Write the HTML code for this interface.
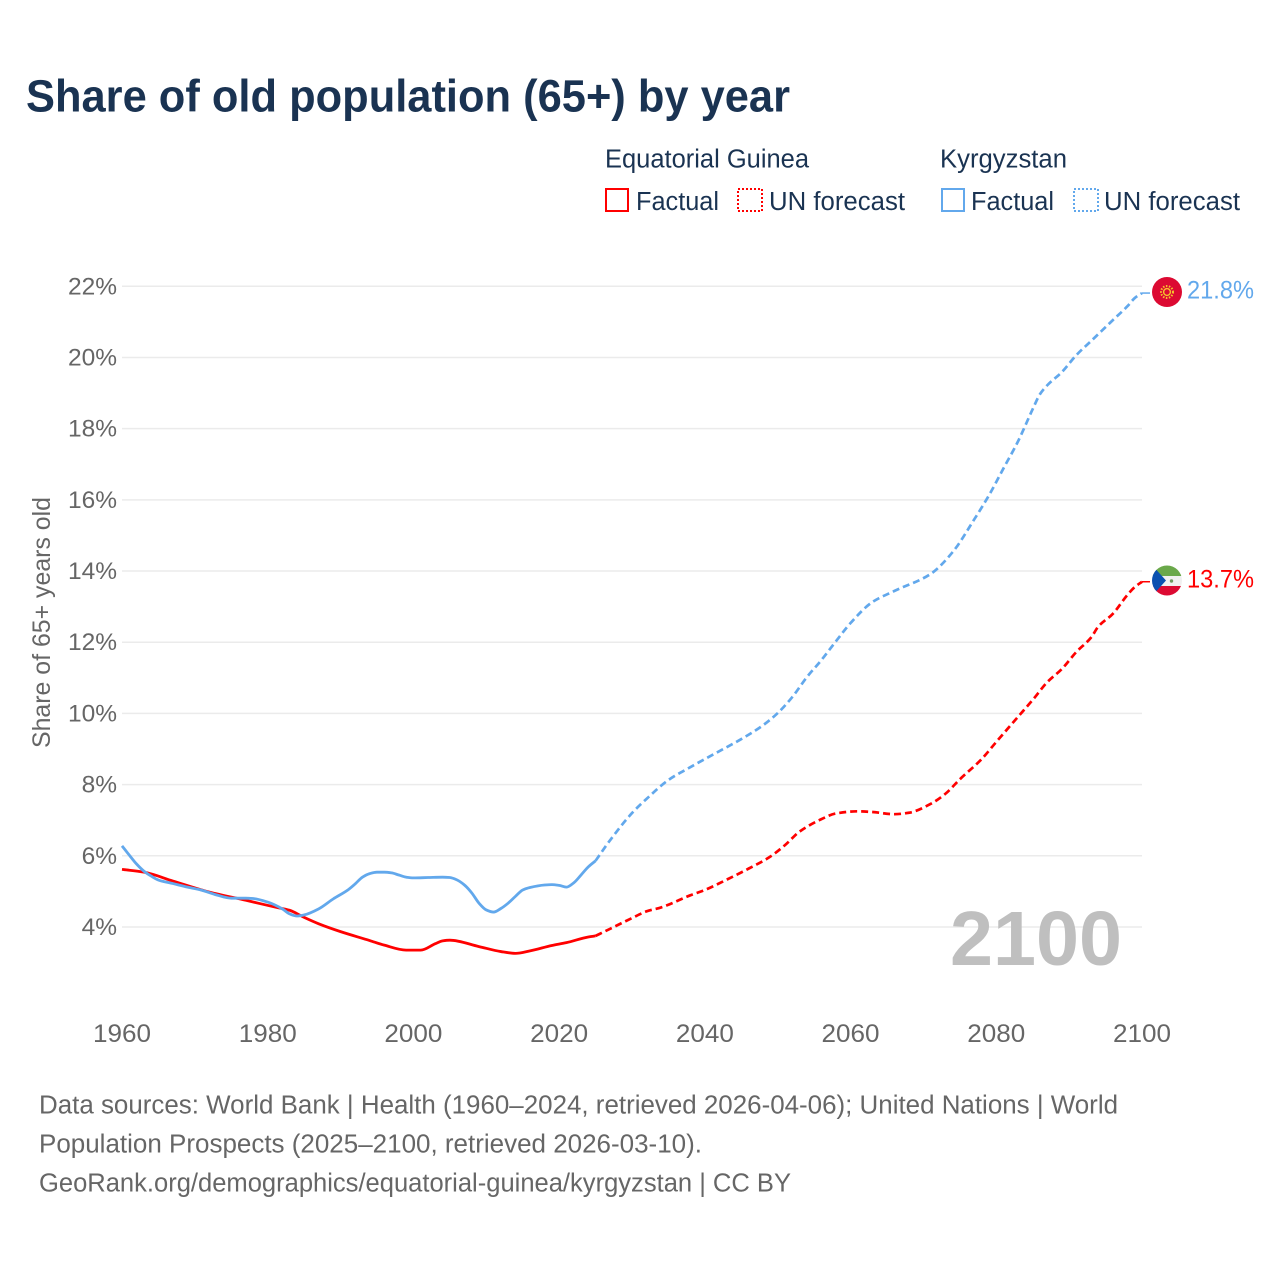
<!DOCTYPE html>
<html lang="en">
<head>
<meta charset="utf-8">
<title>Share of old population (65+) by year</title>
<style>
html,body{margin:0;padding:0;background:#fff;}
svg{display:block;font-family:"Liberation Sans",sans-serif;}
</style>
</head>
<body>
<svg id="chart" width="1280" height="1280" viewBox="0 0 1280 1280" xmlns="http://www.w3.org/2000/svg">
  <defs>
    <clipPath id="flag-clip-gq"><circle cx="1167" cy="580.5" r="15"/></clipPath>
  </defs>
  <rect x="0" y="0" width="1280" height="1280" fill="#ffffff"/>

  <text x="26" y="111.5" font-size="45" font-weight="700" fill="#1a3352" textLength="764" lengthAdjust="spacingAndGlyphs">Share of old population (65+) by year</text>

  <g font-size="25.5" fill="#1a3352">
    <text x="605" y="167.5" textLength="204" lengthAdjust="spacingAndGlyphs">Equatorial Guinea</text>
    <text x="940" y="167.5" textLength="127" lengthAdjust="spacingAndGlyphs">Kyrgyzstan</text>

    <rect x="606" y="189" width="22" height="22" fill="none" stroke="#ff0000" stroke-width="2"/>
    <text x="636" y="210" textLength="83" lengthAdjust="spacingAndGlyphs">Factual</text>
    <rect x="738" y="189" width="24" height="22" fill="none" stroke="#ff0000" stroke-width="2" stroke-dasharray="2 2"/>
    <text x="769" y="210" textLength="136" lengthAdjust="spacingAndGlyphs">UN forecast</text>

    <rect x="942" y="189" width="22" height="22" fill="none" stroke="#62a8ec" stroke-width="2"/>
    <text x="971" y="210" textLength="83" lengthAdjust="spacingAndGlyphs">Factual</text>
    <rect x="1074" y="189" width="24" height="22" fill="none" stroke="#62a8ec" stroke-width="2" stroke-dasharray="2 2"/>
    <text x="1104" y="210" textLength="136" lengthAdjust="spacingAndGlyphs">UN forecast</text>
  </g>

  <g id="grid"></g>
  <g id="y-ticks"></g>
  <g id="x-ticks"></g>

  <text transform="translate(50,622.5) rotate(-90)" text-anchor="middle" font-size="25" fill="#666666" textLength="251" lengthAdjust="spacingAndGlyphs">Share of 65+ years old</text>

  <text x="1122" y="965" text-anchor="end" font-size="77" font-weight="700" fill="#bfbfbf" textLength="172" lengthAdjust="spacingAndGlyphs">2100</text>

  <g id="series"></g>

  <g>
    <circle cx="1167" cy="292" r="15" fill="#dc0a32"/>
    <circle cx="1167" cy="292" r="3.4" fill="none" stroke="#f5c22e" stroke-width="1.4"/>
    <circle cx="1167" cy="292" r="6" fill="none" stroke="#f5c22e" stroke-width="2" stroke-dasharray="1.5 1.5"/>
  </g>
  <g clip-path="url(#flag-clip-gq)">
    <rect x="1152" y="565" width="30" height="11" fill="#6aa84a"/>
    <rect x="1152" y="576" width="30" height="10" fill="#f0f0f0"/>
    <rect x="1152" y="586" width="30" height="11" fill="#dc0a32"/>
    <polygon points="1152,565 1166,580.5 1152,596" fill="#0a50b0"/>
    <circle cx="1171.5" cy="581" r="1.7" fill="#6f9a60"/>
  </g>

  <g id="value-labels"></g>

  <g font-size="25.5" fill="#666666">
    <text x="39" y="1113.5" textLength="1079" lengthAdjust="spacingAndGlyphs">Data sources: World Bank | Health (1960–2024, retrieved 2026-04-06); United Nations | World</text>
    <text x="39" y="1152.5" textLength="663" lengthAdjust="spacingAndGlyphs">Population Prospects (2025–2100, retrieved 2026-03-10).</text>
    <text x="39" y="1191.5" textLength="752" lengthAdjust="spacingAndGlyphs">GeoRank.org/demographics/equatorial-guinea/kyrgyzstan | CC BY</text>
  </g>
</svg>

<script>
const yTickValues = [4, 6, 8, 10, 12, 14, 16, 18, 20, 22];
const xTickYears = [1960, 1980, 2000, 2020, 2040, 2060, 2080, 2100];

const kgFactualYears = [1960,1961,1962,1963,1964,1965,1967,1969,1971,1973,1975,1977,1978,1980,1982,1983,1984,1985,1987,1989,1991,1992,1993,1994,1995,1996,1997,1998,1999,2000,2002,2004,2005,2006,2007,2008,2009,2010,2011,2012,2013,2014,2015,2016,2018,2019,2020,2021,2022,2023,2024,2025];
const kgFactualValues = [6.28,6.02,5.77,5.57,5.43,5.32,5.22,5.12,5.03,4.90,4.81,4.81,4.80,4.70,4.51,4.37,4.31,4.34,4.51,4.79,5.04,5.21,5.40,5.50,5.54,5.54,5.52,5.46,5.40,5.38,5.39,5.40,5.39,5.32,5.18,4.96,4.67,4.48,4.42,4.52,4.67,4.86,5.04,5.11,5.18,5.19,5.17,5.12,5.24,5.46,5.69,5.86];

const kgForecastYears = [2025,2027,2030,2032,2035,2038,2041,2045,2048,2050,2052,2054,2056,2058,2060,2063,2066,2071,2074,2077,2079,2081,2083,2085,2086,2087,2089,2091,2093,2096,2098,2099,2100];
const kgForecastValues = [5.86,6.44,7.20,7.60,8.13,8.49,8.83,9.28,9.67,10.01,10.46,11.02,11.50,12.03,12.54,13.13,13.44,13.92,14.53,15.46,16.13,16.89,17.65,18.55,18.97,19.22,19.59,20.07,20.46,21.05,21.44,21.67,21.81];

const gqFactualYears = [1960,1963,1967,1972,1977,1981,1983,1985,1987,1990,1994,1996,1999,2001,2003,2004,2005,2009,2012,2014,2016,2019,2021,2024,2025];
const gqFactualValues = [5.62,5.54,5.29,4.98,4.75,4.56,4.47,4.27,4.09,3.87,3.62,3.49,3.35,3.35,3.53,3.61,3.63,3.45,3.31,3.26,3.33,3.48,3.56,3.72,3.75];

const gqForecastYears = [2025,2027,2030,2032,2034,2038,2040,2043,2046,2049,2051,2053,2056,2058,2061,2063,2066,2068,2071,2073,2075,2078,2080,2083,2085,2087,2089,2091,2093,2094,2096,2098,2099,2100];
const gqForecastValues = [3.75,3.95,4.25,4.44,4.55,4.89,5.04,5.33,5.64,5.98,6.30,6.68,7.03,7.19,7.25,7.23,7.17,7.21,7.46,7.74,8.15,8.72,9.20,9.91,10.38,10.88,11.25,11.73,12.13,12.44,12.80,13.33,13.55,13.70];

const endValues = [21.8, 13.7];

const NS = 'http://www.w3.org/2000/svg';
const plotLeft = 122, plotRight = 1142;
const yTop = 286.3, yBottom = 927;
const startYear = 1960, endYear = 2100;
const RED = '#ff0000', BLUE = '#62a8ec';

function xScale(year) {
  return plotLeft + (year - startYear) * (plotRight - plotLeft) / (endYear - startYear);
}
function yScale(value) {
  return yBottom - (value - 4) * (yBottom - yTop) / (22 - 4);
}
function el(tag, parent) {
  const node = document.createElementNS(NS, tag);
  parent.appendChild(node);
  return node;
}
/* monotone cubic path */
function monotonePath(years, values) {
  const xs = years.map(xScale), ys = values.map(yScale), n = xs.length;
  const dx = [], slope = [], m = new Array(n);
  for (let i = 0; i < n - 1; i++) {
    dx[i] = xs[i + 1] - xs[i];
    slope[i] = (ys[i + 1] - ys[i]) / dx[i];
  }
  m[0] = slope[0];
  m[n - 1] = slope[n - 2];
  for (let i = 1; i < n - 1; i++) {
    if (slope[i - 1] * slope[i] <= 0) m[i] = 0;
    else {
      const w1 = 2 * dx[i] + dx[i - 1], w2 = dx[i] + 2 * dx[i - 1];
      m[i] = (w1 + w2) / (w1 / slope[i - 1] + w2 / slope[i]);
    }
  }
  let d = 'M' + xs[0].toFixed(2) + ',' + ys[0].toFixed(2);
  for (let i = 0; i < n - 1; i++) {
    const h = dx[i] / 3;
    d += 'C' + (xs[i] + h).toFixed(2) + ',' + (ys[i] + m[i] * h).toFixed(2) + ' ' +
         (xs[i + 1] - h).toFixed(2) + ',' + (ys[i + 1] - m[i + 1] * h).toFixed(2) + ' ' +
         xs[i + 1].toFixed(2) + ',' + ys[i + 1].toFixed(2);
  }
  return d;
}

const gridGroup = document.getElementById('grid');
const yTickGroup = document.getElementById('y-ticks');
yTickValues.forEach(function (v) {
  const line = el('line', gridGroup);
  
  
  line.setAttribute('x1', plotLeft);
  line.setAttribute('x2', plotRight);
  line.setAttribute('y1', yScale(v));
  line.setAttribute('y2', yScale(v));
  line.setAttribute('stroke', '#ebebeb');
  line.setAttribute('stroke-width', '1.5');

  const label = el('text', yTickGroup);
  
  
  label.setAttribute('x', 117);
  label.setAttribute('y', yScale(v) + 8);
  label.setAttribute('text-anchor', 'end');
  label.setAttribute('font-size', '24.5');
  label.setAttribute('fill', '#666666');
  label.textContent = v + '%';
});

const xTickGroup = document.getElementById('x-ticks');
xTickYears.forEach(function (yr) {
  const label = el('text', xTickGroup);
  
  
  label.setAttribute('x', xScale(yr));
  label.setAttribute('y', 1042);
  label.setAttribute('text-anchor', 'middle');
  label.setAttribute('font-size', '25');
  label.setAttribute('fill', '#666666');
  label.setAttribute('textLength', '58');
  label.setAttribute('lengthAdjust', 'spacingAndGlyphs');
  label.textContent = yr;
});

const seriesGroup = document.getElementById('series');

const kgForecastLine = el('path', seriesGroup);


kgForecastLine.setAttribute('d', monotonePath(kgForecastYears, kgForecastValues));
kgForecastLine.setAttribute('fill', 'none');
kgForecastLine.setAttribute('stroke', BLUE);
kgForecastLine.setAttribute('stroke-width', '2.7');
kgForecastLine.setAttribute('stroke-dasharray', '7 4');

const gqForecastLine = el('path', seriesGroup);


gqForecastLine.setAttribute('d', monotonePath(gqForecastYears, gqForecastValues));
gqForecastLine.setAttribute('fill', 'none');
gqForecastLine.setAttribute('stroke', RED);
gqForecastLine.setAttribute('stroke-width', '2.7');
gqForecastLine.setAttribute('stroke-dasharray', '7 4');

const gqFactualLine = el('path', seriesGroup);


gqFactualLine.setAttribute('d', monotonePath(gqFactualYears, gqFactualValues));
gqFactualLine.setAttribute('fill', 'none');
gqFactualLine.setAttribute('stroke', RED);
gqFactualLine.setAttribute('stroke-width', '2.8');

const kgFactualLine = el('path', seriesGroup);


kgFactualLine.setAttribute('d', monotonePath(kgFactualYears, kgFactualValues));
kgFactualLine.setAttribute('fill', 'none');
kgFactualLine.setAttribute('stroke', BLUE);
kgFactualLine.setAttribute('stroke-width', '2.8');

const kgConnector = el('line', seriesGroup);


kgConnector.setAttribute('x1', xScale(2100));
kgConnector.setAttribute('x2', 1150);
kgConnector.setAttribute('y1', yScale(kgForecastValues[kgForecastValues.length - 1]));
kgConnector.setAttribute('y2', yScale(kgForecastValues[kgForecastValues.length - 1]));
kgConnector.setAttribute('stroke', BLUE);
kgConnector.setAttribute('stroke-width', '1.5');

const gqConnector = el('line', seriesGroup);


gqConnector.setAttribute('x1', xScale(2100));
gqConnector.setAttribute('x2', 1150);
gqConnector.setAttribute('y1', yScale(gqForecastValues[gqForecastValues.length - 1]));
gqConnector.setAttribute('y2', yScale(gqForecastValues[gqForecastValues.length - 1]));
gqConnector.setAttribute('stroke', RED);
gqConnector.setAttribute('stroke-width', '1.5');

const labelGroup = document.getElementById('value-labels');

const kgLabel = el('text', labelGroup);


kgLabel.setAttribute('x', 1187);
kgLabel.setAttribute('y', yScale(endValues[0]) + 5);
kgLabel.setAttribute('font-size', '25');
kgLabel.setAttribute('fill', BLUE);
kgLabel.setAttribute('textLength', '67');
kgLabel.setAttribute('lengthAdjust', 'spacingAndGlyphs');
kgLabel.textContent = endValues[0].toFixed(1) + '%';

const gqLabel = el('text', labelGroup);


gqLabel.setAttribute('x', 1187);
gqLabel.setAttribute('y', yScale(endValues[1]) + 6);
gqLabel.setAttribute('font-size', '25');
gqLabel.setAttribute('fill', RED);
gqLabel.setAttribute('textLength', '67');
gqLabel.setAttribute('lengthAdjust', 'spacingAndGlyphs');
gqLabel.textContent = endValues[1].toFixed(1) + '%';
</script>
</body>
</html>
